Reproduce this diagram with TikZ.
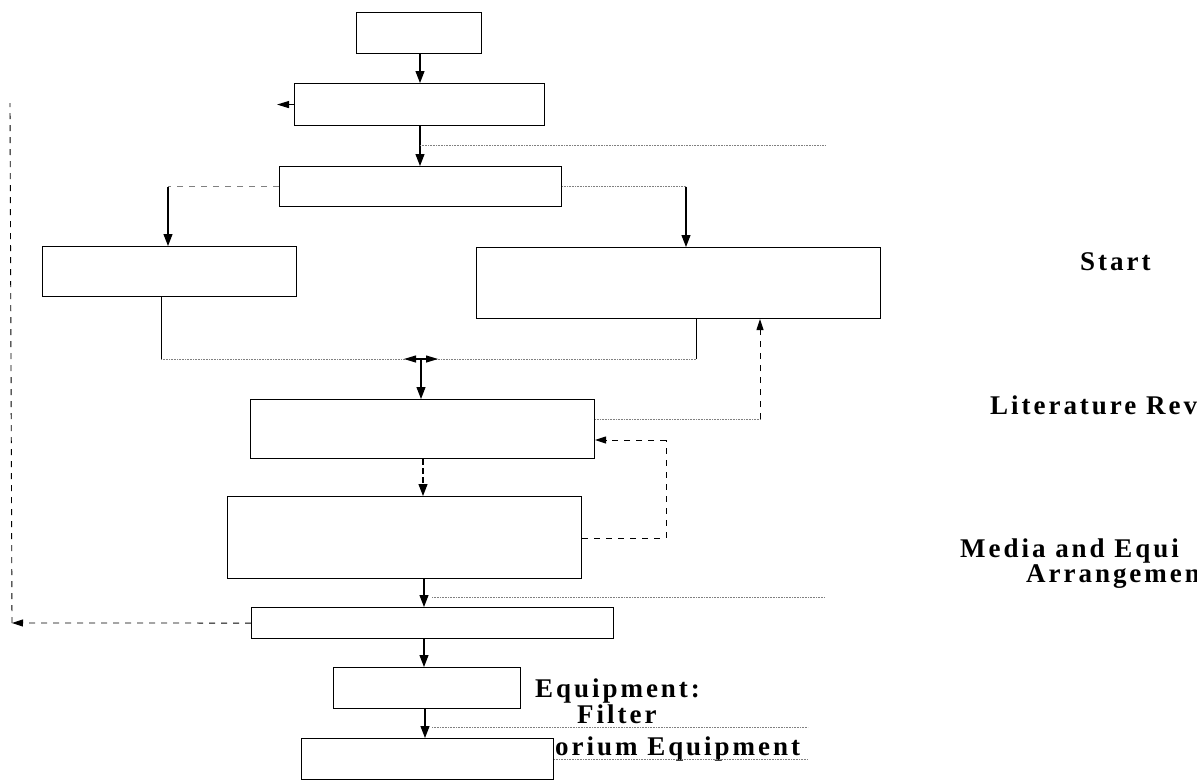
\documentclass[tikz,border=0pt]{standalone}
\usepackage{fontspec}
\setmainfont{Liberation Serif}
\usetikzlibrary{arrows.meta}

\tikzset{
  box/.style={draw, line width=1.1pt, inner sep=0pt, anchor=north west},
  arr/.style={line width=1.1pt, -{Triangle[length=12pt,width=9pt]}},
  tipl/.style={line width=1.1pt, -{Triangle[length=12pt,width=7pt]}},
  dotl/.style={line width=0.6pt, densely dotted, gray},
  dashl/.style={line width=0.9pt, dash pattern=on 6pt off 6pt},
  lbl/.style={anchor=west, inner sep=0pt, font=\fontsize{27}{30}\selectfont\bfseries\addfontfeatures{LetterSpace=11}}
}

\begin{document}
\begin{tikzpicture}[x=1pt,y=-1pt]
\useasboundingbox (0,0) rectangle (1197,780);
\clip (0,0) rectangle (1197,780);
% labels
\node[lbl] (tstart) at (1080,262) {Start};
\node[lbl] (tlit) at (990,405) {Literature Rev};
\node[lbl] (tmedia) at (960,551) {Media and Equi};
\node[lbl] (tarr) at (1026,577) {Arrangemen};
\node[lbl] (tequip) at (535,691) {Equipment:};
\node[lbl] (tfilter) at (577,714) {Filter};
\node[lbl] (tlab) at (555,749) {orium Equipment};
% boxes
\node[box, minimum width=125pt, minimum height=41pt] (start) at (356,12) {};
\node[box, minimum width=250pt, minimum height=42pt] (review) at (294,83) {};
\node[box, minimum width=282pt, minimum height=40pt] (split) at (279,166) {};
\node[box, minimum width=254pt, minimum height=50pt] (left) at (42,246) {};
\node[box, minimum width=404pt, minimum height=71pt] (right) at (476,247) {};
\node[box, minimum width=344pt, minimum height=59pt] (media) at (250,399) {};
\node[box, minimum width=354pt, minimum height=82pt] (arrange) at (227,496) {};
\node[box, minimum width=362pt, minimum height=31pt] (test) at (251,607) {};
\node[box, minimum width=187pt, minimum height=41pt] (result) at (333,667) {};
\node[box, minimum width=252pt, minimum height=41pt, fill=white] (finish) at (301,738) {};
% free ends
\coordinate (d1) at (825,145);
\coordinate (d2) at (825,597);
\coordinate (d3) at (808,727);
\coordinate (d4) at (808,759);
\coordinate (lx) at (168,0);
\coordinate (rx) at (686,0);
\coordinate (lb) at (161,359);
\coordinate (rb) at (696,359);
\coordinate (jn) at (421,359);
\coordinate (up) at (760,419);
\coordinate (loop) at (666,440);
\coordinate (fb) at (12,623);
\coordinate (fbtop) at (10,103);
% main flow
\draw[arr] (start.south -| 420,0) -- (review.north -| 420,0);
\draw[arr] (review.south -| 420,0) -- (split.north -| 420,0);
\draw[dotl] (420,145) -- (d1);
\draw[dashl, gray, line width=0.6pt] (split.west) -- (split.west -| lx);
\draw[arr] (split.west -| lx) -- (left.north -| lx);
\draw[dotl] (split.east) -- (split.east -| rx);
\draw[arr] (split.east -| rx) -- (right.north -| rx);
\draw[line width=0.9pt] (left.south -| lb) -- (lb);
\draw[line width=0.9pt] (right.south -| rb) -- (rb);
\draw[dotl] (lb) -- (rb);
\draw[tipl] (jn) -- ++(-17,0);
\draw[tipl] (jn) -- ++(17,0);
\draw[arr] (jn) -- (media.north -| jn);
\draw[arr, dash pattern=on 6pt off 3pt] (media.south -| 423,0) -- (arrange.north -| 423,0);
\draw[dotl] (media.east |- up) -- (up);
\draw[dashl, -{Triangle[length=11pt,width=7pt]}] (up) -- (right.south -| up);
\draw[dashl] (arrange.east |- 0,538) -- (loop |- 0,538) -- (loop);
\draw[dashl, -{Triangle[length=11pt,width=7pt]}] (loop) -- (media.east |- loop);
\draw[arr] (arrange.south -| 424,0) -- (test.north -| 424,0);
\draw[dotl] (432,597) -- (d2);
\draw[dashl, -{Triangle[length=11pt,width=7pt]}] (test.west) -- (fb);
\draw[dashl] (fb) -- (fbtop);
\draw[tipl] (review.west) -- ++(-17,0);
\draw[arr] (test.south -| 424,0) -- (result.north -| 424,0);
\draw[arr] (result.south -| 425,0) -- (finish.north -| 425,0);
\draw[dotl] (432,727) -- (d3);
\draw[dotl] (finish.east |- d4) -- (d4);
\end{tikzpicture}
\end{document}
